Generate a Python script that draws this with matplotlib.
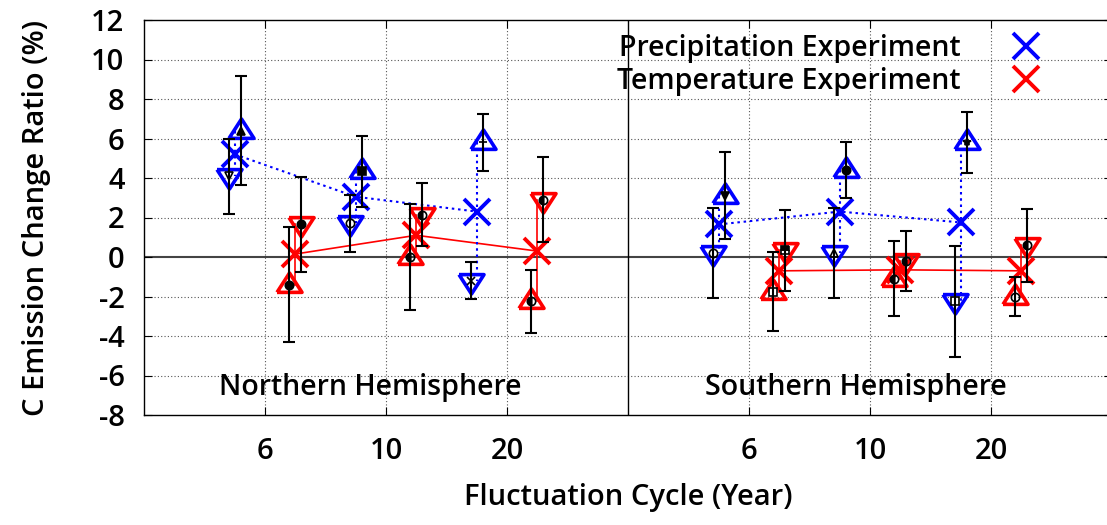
# Recreate the C emission change ratio chart (gnuplot style)

import numpy as np
import matplotlib
matplotlib.use("Agg")
import matplotlib.pyplot as plt
from matplotlib.lines import Line2D

plt.rcParams['font.family'] = ['Open Sans', 'DejaVu Sans']
plt.rcParams['axes.unicode_minus'] = False

# Group tick positions and labels (left: Northern, right: Southern)
group_pos = [1, 2, 3, 5, 6, 7]
group_labels = ['6', '10', '20', '6', '10', '20']
panel_names = ['Northern Hemisphere', 'Southern Hemisphere']

# Precipitation experiment values (%)
prec_up = [6.4, 4.35, 5.8, 3.1, 4.4, 5.8]
prec_up_err = [2.75, 1.8, 1.45, 2.2, 1.4, 1.55]
prec_dn = [4.1, 1.7, -1.2, 0.2, 0.2, -2.25]
prec_dn_err = [1.9, 1.45, 0.95, 2.3, 2.3, 2.8]
prec_mean = [5.2, 3.05, 2.3, 1.65, 2.3, 1.75]

# Temperature experiment values (%)
temp_up = [-1.4, 0.0, -2.25, -1.75, -1.1, -2.0]
temp_up_err = [2.9, 2.7, 1.6, 2.0, 1.9, 1.0]
temp_dn = [1.65, 2.15, 2.9, 0.35, -0.2, 0.6]
temp_dn_err = [2.4, 1.6, 2.15, 2.05, 1.5, 1.85]
temp_mean = [0.15, 1.1, 0.3, -0.7, -0.65, -0.7]

# small black point styles inside the big triangles: (marker, fillstyle)
prec_up_sty = [('^', 'full'), ('s', 'full'), ('+', 'full'), ('v', 'full'), ('o', 'full'), ('*', 'full')]
prec_dn_sty = [('v', 'none'), ('o', 'none'), ('x', 'full'), ('o', 'none'), ('^', 'none'), ('s', 'none')]
temp_up_sty = [('o', 'full'), ('o', 'left'), ('o', 'left'), ('s', 'none'), ('o', 'left'), ('o', 'none')]
temp_dn_sty = [('o', 'full'), ('o', 'left'), ('o', 'left'), ('s', 'top'), ('o', 'left'), ('o', 'left')]

blue = '#0000ff'
red = '#ff0000'

# gnuplot-like wide triangles
tri_up = [(-1, -0.55), (1, -0.55), (0, 1.0), (-1, -0.55)]
tri_dn = [(x, -y) for x, y in tri_up]

fig = plt.figure(figsize=(11.07, 5.25), dpi=100)
ax = fig.add_axes([144/1107, 110/525, 968/1107, 395/525])

pos = np.array(group_pos, dtype=float)

# grid, zero line and panel divider
for yy in range(-6, 12, 2):
    if yy != 0:
        ax.axhline(yy, color='#555555', lw=0.8, ls=(0, (1, 2)), zorder=0)
for xx in group_pos:
    ax.axvline(xx, color='#555555', lw=0.8, ls=(0, (1, 2)), zorder=0)
ax.axhline(0, color='#444444', lw=1.5, zorder=1)
ax.axvline(4, color='black', lw=1.0, zorder=1)

# x positions of the markers
xp_mean = pos - 0.25
xp_up = pos - 0.20
xp_dn = pos - 0.30
xt_mean = pos + 0.25
xt_up = pos + 0.20
xt_dn = pos + 0.30

# connecting lines of the means, per panel
for sl in [slice(0, 3), slice(3, 6)]:
    ax.plot(xp_mean[sl], prec_mean[sl], color=blue, ls=(0, (1.2, 1.8)), lw=1.5, zorder=2)
    ax.plot(xt_mean[sl], temp_mean[sl], color=red, ls='-', lw=1.2, zorder=2)

# vertical connectors between the two phases
for i in range(len(group_pos)):
    ax.plot([xp_mean[i], xp_mean[i]], [prec_up[i], prec_dn[i]], color=blue,
            ls=(0, (1.2, 1.8)), lw=1.5, zorder=2)
    ax.plot([xt_mean[i], xt_mean[i]], [temp_up[i], temp_dn[i]], color=red,
            ls='-', lw=1.2, zorder=2)

# big open triangles
ax.plot(xp_up, prec_up, ls='none', marker=tri_up, ms=18, mfc='none', mec=blue, mew=2.6, zorder=3)
ax.plot(xp_dn, prec_dn, ls='none', marker=tri_dn, ms=18, mfc='none', mec=blue, mew=2.6, zorder=3)
ax.plot(xt_up, temp_up, ls='none', marker=tri_up, ms=18, mfc='none', mec=red, mew=2.6, zorder=3)
ax.plot(xt_dn, temp_dn, ls='none', marker=tri_dn, ms=18, mfc='none', mec=red, mew=2.6, zorder=3)

# mean crosses
ax.plot(xp_mean, prec_mean, ls='none', marker='x', ms=19, mec=blue, mew=2.8, zorder=4)
ax.plot(xt_mean, temp_mean, ls='none', marker='x', ms=19, mec=red, mew=2.8, zorder=4)

# error bars
for xs, ys, es in [(xp_up, prec_up, prec_up_err), (xp_dn, prec_dn, prec_dn_err),
                   (xt_up, temp_up, temp_up_err), (xt_dn, temp_dn, temp_dn_err)]:
    ax.errorbar(xs, ys, yerr=es, fmt='none', ecolor='black', elinewidth=1.5,
                capsize=4, capthick=1.5, zorder=5)

# small black points
for xs, ys, sty in [(xp_up, prec_up, prec_up_sty), (xp_dn, prec_dn, prec_dn_sty),
                    (xt_up, temp_up, temp_up_sty), (xt_dn, temp_dn, temp_dn_sty)]:
    for x, y, (m, fs) in zip(xs, ys, sty):
        ax.plot(x, y, ls='none', marker=m, ms=6, color='black', mfc='black',
                fillstyle=fs, mew=1.2, zorder=6)

# panel names
ax.text(1.87, -6.6, panel_names[0], fontsize=20.5, fontweight='semibold',
        ha='center', va='center')
ax.text(5.88, -6.6, panel_names[1], fontsize=20.5, fontweight='semibold',
        ha='center', va='center')

ax.set_xlim(0, 8)
ax.set_ylim(-8, 12)
ax.set_xticks(group_pos)
ax.set_xticklabels(group_labels)
ax.set_yticks(range(-8, 13, 2))
ax.tick_params(axis='both', direction='in', top=True, right=True, length=6,
               labelsize=21)
ax.tick_params(axis='x', pad=16)
ax.tick_params(axis='y', pad=14)
for lab in ax.get_xticklabels() + ax.get_yticklabels():
    lab.set_fontweight('semibold')
for sp in ax.spines.values():
    sp.set_linewidth(1.0)

ax.set_xlabel('Fluctuation Cycle (Year)', fontsize=21, fontweight='semibold', labelpad=12)
ax.set_ylabel('C Emission Change Ratio (%)', fontsize=21, fontweight='semibold', labelpad=29)

# legend
handles = [Line2D([], [], ls='none', marker='x', ms=19, mec=blue, mew=2.8),
           Line2D([], [], ls='none', marker='x', ms=19, mec=red, mew=2.8)]
ax.legend(handles, ['Precipitation Experiment', 'Temperature Experiment'],
          loc='upper right', bbox_to_anchor=(0.9675, 1.03), frameon=False,
          markerfirst=False, prop={'size': 20.5, 'weight': 'semibold'},
          handletextpad=1.3, labelspacing=0.15)

plt.savefig('out.png', dpi=100)
